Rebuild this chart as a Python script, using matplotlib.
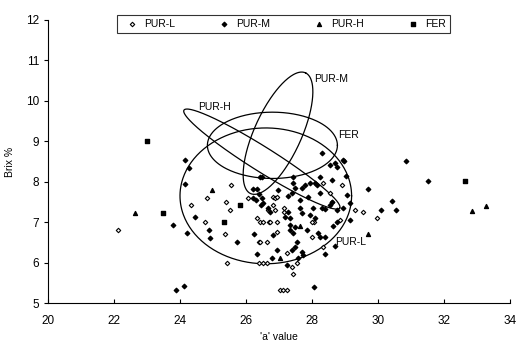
import matplotlib
matplotlib.use("Agg")
import matplotlib.pyplot as plt
import numpy as np

plt.rcParams['font.family'] = ['Liberation Sans', 'DejaVu Sans']

# scatter data ('a' value, Brix %)
pur_l_x = [22.12, 25.55, 24.82, 25.39, 26.06, 24.33, 25.52, 24.76, 26.33, 26.42, 26.67, 26.70,
           25.36, 26.39, 26.64, 26.39, 26.64, 25.42, 26.52, 26.73, 26.94, 28.06, 26.94, 28.00,
           26.42, 27.24, 28.33, 27.39, 27.55, 26.52, 27.42, 27.03, 27.12, 27.24, 28.91, 28.33,
           28.55, 26.82, 26.88, 26.94, 26.82, 26.88, 27.15, 27.15, 28.00, 29.30, 28.85, 29.55,
           29.97, 28.61]
pur_l_y = [6.80, 7.92, 7.60, 7.50, 7.60, 7.43, 7.30, 7.00, 7.10, 7.00, 7.30, 7.00,
           6.71, 6.51, 6.51, 6.00, 6.00, 6.00, 7.00, 7.00, 7.00, 7.00, 6.76, 6.63,
           6.51, 6.24, 6.39, 5.89, 5.99, 5.99, 5.72, 5.32, 5.32, 5.32, 7.92, 7.97,
           7.72, 7.62, 7.60, 7.62, 7.43, 7.30, 7.25, 7.35, 7.00, 7.30, 7.05, 7.25,
           7.10, 7.50]

pur_m_x = [24.15, 24.27, 24.15, 23.79, 24.21, 26.21, 26.30, 26.39, 26.45, 24.45, 26.21, 26.33,
           26.42, 24.88, 24.91, 25.73, 26.24, 26.33, 28.64, 26.82, 27.33, 27.42, 27.85, 28.18,
           28.24, 28.39, 28.70, 26.94, 27.39, 27.48, 27.55, 27.70, 27.73, 28.39, 26.79, 27.24,
           27.58, 28.06, 23.88, 24.12, 28.30, 28.55, 28.70, 28.76, 28.94, 28.24, 28.61, 29.06,
           27.42, 27.42, 27.48, 27.39, 27.70, 27.79, 27.94, 28.09, 28.15, 28.24, 26.97, 27.27,
           27.88, 27.64, 28.61, 28.55, 28.76, 28.30, 28.39, 28.03, 28.94, 29.15, 29.15, 26.48,
           26.52, 26.67, 26.73, 27.27, 27.64, 27.70, 27.18, 27.33, 27.94, 28.09, 27.33, 27.48,
           28.76, 26.48, 28.97, 29.03, 29.70, 30.42, 30.55, 30.10, 30.85, 31.50]
pur_m_y = [8.54, 8.34, 7.95, 6.93, 6.73, 7.60, 7.55, 7.70, 7.43, 7.13, 7.82, 7.82,
           8.12, 6.81, 6.61, 6.51, 6.71, 6.21, 6.91, 6.68, 6.81, 6.73, 6.81, 6.73,
           6.63, 6.63, 6.41, 6.31, 6.31, 6.39, 6.51, 6.26, 6.19, 6.21, 6.11, 5.94,
           6.11, 5.40, 5.32, 5.42, 8.71, 8.42, 8.47, 8.37, 8.54, 8.12, 8.04, 7.67,
           8.12, 7.97, 7.85, 7.72, 7.85, 7.92, 7.97, 7.97, 7.92, 7.72, 7.80, 7.65,
           7.62, 7.55, 7.50, 7.43, 7.30, 7.35, 7.33, 7.35, 7.35, 7.48, 7.05, 7.60,
           7.48, 7.35, 7.25, 7.25, 7.35, 7.23, 7.13, 7.10, 7.18, 7.10, 6.93, 6.88,
           7.00, 8.12, 8.51, 8.14, 7.82, 7.52, 7.30, 7.30, 8.51, 8.02]

pur_h_x = [22.64, 24.97, 32.85, 33.27, 29.70, 27.03, 27.64]
pur_h_y = [7.23, 7.80, 7.28, 7.40, 6.70, 6.11, 6.91]

fer_x = [23.00, 23.48, 32.64, 25.82, 25.33]
fer_y = [9.00, 7.23, 8.02, 7.43, 7.00]

# ellipses: label, centre, two conjugate half-axes, label position
ell_names = ['PUR-L', 'FER', 'PUR-M', 'PUR-H']
ell_centre = [(26.60, 7.65), (26.80, 8.90), (26.97, 9.20), (26.48, 8.56)]
ell_u = [(2.60, 0.0), (1.97, 0.0), (0.84, 1.49), (2.36, -1.21)]
ell_v = [(0.0, 1.68), (0.0, 0.82), (0.64, -0.26), (-0.19, -0.26)]
ell_label_pos = [(28.70, 6.50), (28.80, 9.15), (28.05, 10.55), (24.55, 9.85)]

fig = plt.figure(figsize=(5.26, 3.48), dpi=100)
ax = fig.add_axes([48/526, 45/348, 462/526, 283/348])

ax.scatter(pur_l_x, pur_l_y, marker='D', s=5, facecolors='white', edgecolors='black',
           linewidths=0.8, label='PUR-L', zorder=3)
ax.scatter(pur_m_x, pur_m_y, marker='D', s=5, color='black', label='PUR-M', zorder=3)
ax.scatter(pur_h_x, pur_h_y, marker='^', s=8, color='black', label='PUR-H', zorder=3)
ax.scatter(fer_x, fer_y, marker='s', s=8, color='black', label='FER', zorder=3)

t = np.linspace(0, 2*np.pi, 300)
for name, c, u, v, lp in zip(ell_names, ell_centre, ell_u, ell_v, ell_label_pos):
    ex = c[0] + u[0]*np.cos(t) + v[0]*np.sin(t)
    ey = c[1] + u[1]*np.cos(t) + v[1]*np.sin(t)
    ax.plot(ex, ey, color='black', lw=0.9)
    ax.text(lp[0], lp[1], name, fontsize=7.5, ha='left', va='center')

ax.set_xlim(20, 34)
ax.set_ylim(5, 12)
ax.set_xticks(np.arange(20, 35, 2))
ax.set_yticks(np.arange(5, 13, 1))
ax.spines['top'].set_visible(False)
ax.spines['right'].set_visible(False)
ax.tick_params(axis='x', direction='in', length=3, labelsize=8.5, pad=9)
ax.tick_params(axis='y', direction='out', length=3, labelsize=8.5)
ax.set_xlabel("'a' value", fontsize=7.5, labelpad=3)
ax.set_ylabel('Brix %', fontsize=7.5, labelpad=8)

leg = fig.legend(loc='center', ncol=4, bbox_to_anchor=(117/526, 1-40/348, 333/526, 32/348),
                 mode='expand', frameon=True, fancybox=False, edgecolor='black',
                 fontsize=7.5, handletextpad=0.2, markerscale=1.0, borderaxespad=0)
leg.get_frame().set_linewidth(0.8)

fig.savefig('out.png', dpi=100)
